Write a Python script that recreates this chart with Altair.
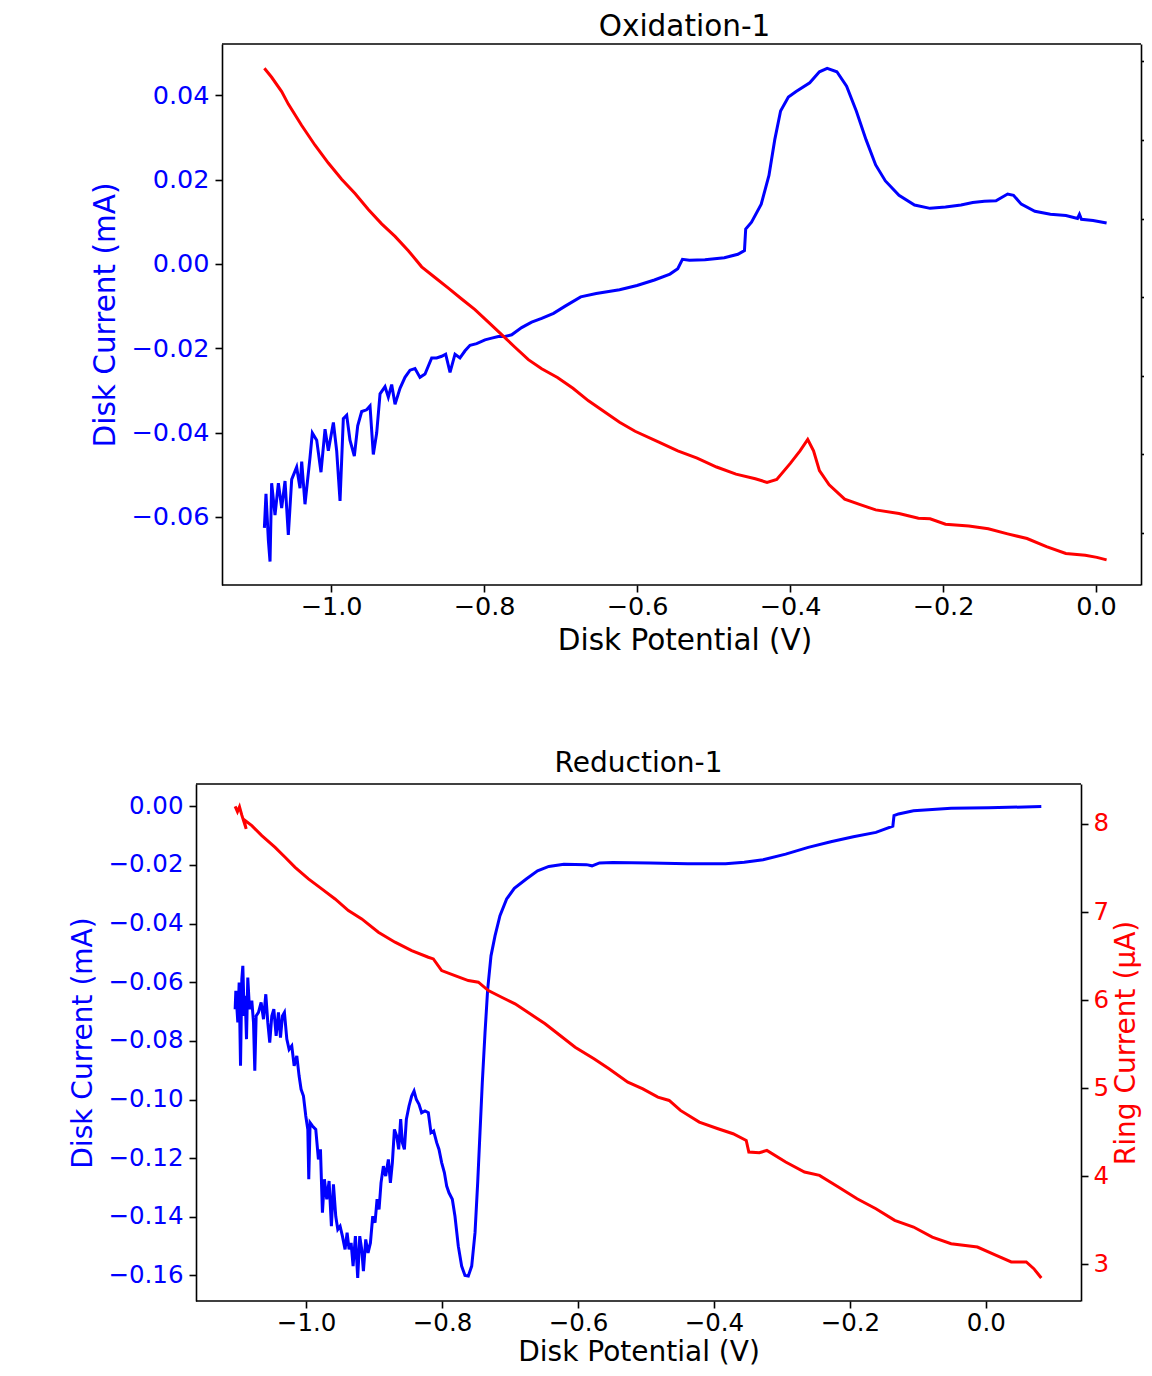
import altair as alt
import pandas as pd

FONT = "DejaVu Sans"
BLUE = "#0000ff"
RED = "#ff0000"

# ---------------- Oxidation-1 ----------------
OX_BLUE_V = [-1.0871, -1.0850, -1.0819, -1.0797, -1.0776, -1.0732, -1.0688, -1.0645, -1.0601, -1.0558,
             -1.0514, -1.0449, -1.0405, -1.0383, -1.0340, -1.0275, -1.0244, -1.0187, -1.0131, -1.0078,
             -1.0035, -0.9969, -0.9926, -0.9882, -0.9839, -0.9795, -0.9752, -0.9695, -0.9651, -0.9599,
             -0.9534, -0.9490, -0.9447, -0.9403, -0.9359, -0.9294, -0.9251, -0.9207, -0.9163, -0.9098,
             -0.9033, -0.8967, -0.8902, -0.8837, -0.8771, -0.8684, -0.8619, -0.8553, -0.8501, -0.8444,
             -0.8379, -0.8314, -0.8248, -0.8183, -0.8096, -0.7987, -0.7900, -0.7813, -0.7725, -0.7638,
             -0.7508, -0.7377, -0.7246, -0.7091, -0.6939, -0.6736, -0.6533, -0.6228, -0.6000, -0.5772,
             -0.5569, -0.5467, -0.5406, -0.5315, -0.5112, -0.4858, -0.4681, -0.4595, -0.4579, -0.4503,
             -0.4376, -0.4275, -0.4199, -0.4123, -0.4021, -0.3920, -0.3742, -0.3615, -0.3514, -0.3387,
             -0.3260, -0.3133, -0.3006, -0.2880, -0.2753, -0.2575, -0.2372, -0.2169, -0.1967, -0.1764,
             -0.1611, -0.1459, -0.1307, -0.1155, -0.1078, -0.0977, -0.0799, -0.0596, -0.0393, -0.0241,
             -0.0216, -0.0190, -0.0038, 0.0139]
OX_BLUE_I = [-0.0626, -0.0545, -0.0655, -0.0706, -0.0520, -0.0596, -0.0520, -0.0579, -0.0515, -0.0643,
             -0.0511, -0.0482, -0.0532, -0.0469, -0.0570, -0.0460, -0.0401, -0.0418, -0.0494, -0.0392,
             -0.0443, -0.0376, -0.0443, -0.0562, -0.0367, -0.0359, -0.0418, -0.0456, -0.0384, -0.0350,
             -0.0346, -0.0337, -0.0452, -0.0401, -0.0308, -0.0291, -0.0316, -0.0286, -0.0333, -0.0295,
             -0.0269, -0.0252, -0.0248, -0.0269, -0.0261, -0.0223, -0.0223, -0.0219, -0.0214, -0.0257,
             -0.0214, -0.0223, -0.0206, -0.0193, -0.0189, -0.0180, -0.0176, -0.0172, -0.0172, -0.0168,
             -0.0151, -0.0138, -0.0129, -0.0117, -0.0100, -0.0078, -0.0070, -0.0061, -0.0051, -0.0038,
             -0.0024, -0.0011, 0.0011, 0.0009, 0.0010, 0.0015, 0.0023, 0.0032, 0.0083, 0.0099,
             0.0142, 0.0210, 0.0295, 0.0363, 0.0396, 0.0409, 0.0430, 0.0456, 0.0464, 0.0456,
             0.0422, 0.0363, 0.0295, 0.0235, 0.0197, 0.0163, 0.0140, 0.0132, 0.0135, 0.0140,
             0.0146, 0.0149, 0.0150, 0.0166, 0.0163, 0.0142, 0.0125, 0.0118, 0.0115, 0.0108,
             0.0118, 0.0106, 0.0103, 0.0097]

OX_RED_V = [-1.0871, -1.0776, -1.0645, -1.0558, -1.0383, -1.0209, -1.0035, -0.9861, -0.9686, -0.9512,
            -0.9338, -0.9163, -0.8989, -0.8815, -0.8641, -0.8466, -0.8292, -0.8118, -0.7943, -0.7769,
            -0.7595, -0.7420, -0.7246, -0.7040, -0.6837, -0.6634, -0.6431, -0.6228, -0.6025, -0.5721,
            -0.5467, -0.5214, -0.4960, -0.4706, -0.4453, -0.4300, -0.4173, -0.3996, -0.3869, -0.3768,
            -0.3692, -0.3615, -0.3488, -0.3285, -0.3082, -0.2880, -0.2575, -0.2321, -0.2169, -0.1967,
            -0.1662, -0.1408, -0.1155, -0.0901, -0.0647, -0.0394, -0.0140, 0.0012, 0.0139]
OX_RED_I = [7.910, 7.796, 7.614, 7.455, 7.182, 6.932, 6.705, 6.500, 6.318, 6.114,
            5.932, 5.773, 5.591, 5.386, 5.250, 5.114, 4.977, 4.841, 4.682, 4.523,
            4.363, 4.205, 4.090, 3.978, 3.841, 3.682, 3.545, 3.409, 3.295, 3.159,
            3.045, 2.954, 2.840, 2.750, 2.691, 2.645, 2.681, 2.886, 3.045, 3.190,
            3.045, 2.795, 2.613, 2.431, 2.363, 2.295, 2.249, 2.190, 2.181, 2.113,
            2.090, 2.054, 1.990, 1.931, 1.827, 1.741, 1.718, 1.691, 1.659]

# ---------------- Reduction-1 ----------------
RE_BLUE_V = [-1.1044, -1.1034, -1.1005, -1.0985, -1.0965, -1.0946, -1.0931, -1.0911, -1.0897, -1.0877,
             -1.0858, -1.0833, -1.0799, -1.0774, -1.0755, -1.0735, -1.0701, -1.0662, -1.0627, -1.0593,
             -1.0564, -1.0535, -1.0505, -1.0475, -1.0441, -1.0407, -1.0377, -1.0348, -1.0319, -1.0284,
             -1.0250, -1.0211, -1.0176, -1.0137, -1.0103, -1.0074, -1.0039, -1.0005, -0.9975, -0.9961,
             -0.9941, -0.9907, -0.9858, -0.9819, -0.9789, -0.9760, -0.9731, -0.9696, -0.9662, -0.9628,
             -0.9598, -0.9564, -0.9534, -0.9500, -0.9466, -0.9427, -0.9397, -0.9368, -0.9338, -0.9309,
             -0.9275, -0.9241, -0.9211, -0.9182, -0.9157, -0.9123, -0.9089, -0.9054, -0.9020, -0.8986,
             -0.8956, -0.8927, -0.8898, -0.8863, -0.8829, -0.8790, -0.8760, -0.8731, -0.8701, -0.8667,
             -0.8638, -0.8609, -0.8584, -0.8554, -0.8525, -0.8486, -0.8447, -0.8412, -0.8378, -0.8339,
             -0.8300, -0.8251, -0.8202, -0.8163, -0.8124, -0.8079, -0.8045, -0.8006, -0.7966, -0.7932,
             -0.7898, -0.7849, -0.7810, -0.7761, -0.7712, -0.7663, -0.7614, -0.7564, -0.7515, -0.7476,
             -0.7442, -0.7408, -0.7368, -0.7329, -0.7280, -0.7221, -0.7148, -0.7050, -0.6937, -0.6761,
             -0.6595, -0.6429, -0.6208, -0.5876, -0.5794, -0.5683, -0.5489, -0.4936, -0.4383, -0.3830,
             -0.3554, -0.3277, -0.2945, -0.2613, -0.2281, -0.1949, -0.1617, -0.1368, -0.1351, -0.1285,
             -0.1064, -0.0511, 0.0042, 0.0816]
RE_BLUE_I = [-0.0692, -0.0629, -0.0737, -0.0601, -0.0885, -0.0590, -0.0544, -0.0715, -0.0646, -0.0794,
             -0.0584, -0.0692, -0.0663, -0.0737, -0.0902, -0.0715, -0.0703, -0.0669, -0.0726, -0.0641,
             -0.0737, -0.0806, -0.0715, -0.0692, -0.0783, -0.0703, -0.0789, -0.0715, -0.0703, -0.0794,
             -0.0829, -0.0817, -0.0885, -0.0851, -0.0920, -0.0965, -0.0988, -0.1056, -0.1102, -0.1272,
             -0.1079, -0.1090, -0.1102, -0.1204, -0.1170, -0.1386, -0.1272, -0.1340, -0.1278, -0.1432,
             -0.1289, -0.1398, -0.1443, -0.1432, -0.1466, -0.1511, -0.1454, -0.1511, -0.1489, -0.1568,
             -0.1466, -0.1608, -0.1466, -0.1511, -0.1585, -0.1477, -0.1523, -0.1489, -0.1398, -0.1420,
             -0.1340, -0.1375, -0.1284, -0.1227, -0.1261, -0.1204, -0.1284, -0.1215, -0.1102, -0.1125,
             -0.1170, -0.1067, -0.1147, -0.1170, -0.1067, -0.1022, -0.0988, -0.0971, -0.1000, -0.1016,
             -0.1045, -0.1039, -0.1045, -0.1113, -0.1107, -0.1147, -0.1170, -0.1215, -0.1249, -0.1295,
             -0.1318, -0.1340, -0.1398, -0.1500, -0.1568, -0.1600, -0.1602, -0.1568, -0.1454, -0.1284,
             -0.1113, -0.0942, -0.0772, -0.0624, -0.0510, -0.0442, -0.0373, -0.0316, -0.0280, -0.0248,
             -0.0220, -0.0205, -0.0198, -0.0199, -0.0203, -0.0193, -0.0192, -0.0193, -0.0196, -0.0196,
             -0.0191, -0.0182, -0.0163, -0.0140, -0.0121, -0.0104, -0.0089, -0.0068, -0.0032, -0.0026,
             -0.0015, -0.0007, -0.0005, -0.0001]

RE_RED_V = [-1.1044, -1.1010, -1.0980, -1.0946, -1.0882, -1.0916, -1.0799, -1.0652, -1.0456, -1.0309,
            -1.0162, -0.9966, -0.9770, -0.9574, -0.9378, -0.9182, -0.8937, -0.8692, -0.8447, -0.8202,
            -0.8128, -0.8006, -0.7810, -0.7614, -0.7466, -0.7319, -0.7123, -0.6926, -0.6705, -0.6484,
            -0.6263, -0.6042, -0.5765, -0.5544, -0.5267, -0.5046, -0.4825, -0.4659, -0.4493, -0.4216,
            -0.3940, -0.3719, -0.3525, -0.3487, -0.3332, -0.3221, -0.2945, -0.2668, -0.2447, -0.2170,
            -0.1894, -0.1617, -0.1341, -0.1064, -0.0788, -0.0511, -0.0124, 0.0153, 0.0374, 0.0595,
            0.0706, 0.0816]
RE_RED_I = [8.201, 8.140, 8.195, 8.100, 7.944, 8.050, 7.981, 7.868, 7.735, 7.622,
            7.508, 7.376, 7.263, 7.149, 7.017, 6.922, 6.771, 6.658, 6.563, 6.487,
            6.468, 6.336, 6.279, 6.222, 6.204, 6.109, 6.033, 5.958, 5.845, 5.731,
            5.599, 5.466, 5.334, 5.220, 5.069, 4.993, 4.899, 4.861, 4.748, 4.615,
            4.540, 4.483, 4.407, 4.275, 4.267, 4.294, 4.162, 4.048, 4.010, 3.878,
            3.745, 3.632, 3.500, 3.424, 3.310, 3.235, 3.197, 3.102, 3.027, 3.027,
            2.951, 2.845]

X_TICKS = [-1.0, -0.8, -0.6, -0.4, -0.2, 0.0]
OX_Y_TICKS = [-0.06, -0.04, -0.02, 0.00, 0.02, 0.04]
OX_R_TICKS = [2, 3, 4, 5, 6, 7, 8]
RE_Y_TICKS = [-0.16, -0.14, -0.12, -0.10, -0.08, -0.06, -0.04, -0.02, 0.00]
RE_R_TICKS = [3, 4, 5, 6, 7, 8]


def mkdf(v, i):
    assert len(v) == len(i), (len(v), len(i))
    return pd.DataFrame({"potential": v, "current": i, "n": list(range(len(v)))})


def panel(title, bv, bi, rv, ri, xdom, ydom, rdom, yticks, rticks, show_right,
          w, h, inset, xrange_end, fs_title, fs_label, title_offset, left_extent,
          xlab_pad, xtitle_pad, rtick):
    # inset: blank strip (px) left of the drawn frame inside the group
    xdef = alt.X("potential:Q",
                 scale=alt.Scale(domain=xdom, nice=False, zero=False, range=[inset, xrange_end]),
                 axis=alt.Axis(values=X_TICKS, format=".1f", title="Disk Potential (V)",
                               labelFontSize=fs_label, titleFontSize=fs_title,
                               labelPadding=xlab_pad, titlePadding=xtitle_pad, tickSize=7,
                               domain=False, labelFlush=False, labelOverlap=False,
                               labelColor="black", titleColor="black"))
    left_axis_kw = dict(orient="left", values=yticks, format=".2f",
                        title="Disk Current (mA)", labelColor=BLUE, titleColor=BLUE,
                        labelFontSize=fs_label, titleFontSize=fs_title,
                        labelPadding=6, titlePadding=10, tickSize=7,
                        labelFlush=False, labelOverlap=False)
    if inset:
        left_axis_kw["offset"] = -inset
    blue = alt.Chart(mkdf(bv, bi)).mark_line(color=BLUE, strokeWidth=3).encode(
        x=xdef,
        y=alt.Y("current:Q", scale=alt.Scale(domain=ydom, nice=False, zero=False),
                axis=alt.Axis(**left_axis_kw)),
        order="n:Q")
    if show_right:
        raxis = alt.Axis(orient="right", values=rticks, format="d",
                         title="Ring Current (µA)", labelColor=RED, titleColor=RED,
                         labelFontSize=fs_label, titleFontSize=fs_title, titleAngle=270,
                         titleBaseline="top", labelPadding=5, titlePadding=4, tickSize=rtick,
                         labelFlush=False, labelOverlap=False)
    else:
        raxis = alt.Axis(orient="right", values=rticks, labels=False, title=None, tickSize=rtick)
    red = alt.Chart(mkdf(rv, ri)).mark_line(color=RED, strokeWidth=3).encode(
        x=xdef,
        y=alt.Y("current:Q", scale=alt.Scale(domain=rdom, nice=False, zero=False), axis=raxis),
        order="n:Q")
    one = pd.DataFrame({"s": [0]})
    top_edge = alt.Chart(one).mark_rule(color="black", strokeWidth=1.6).encode(
        x=alt.value(inset), x2=alt.value(w), y=alt.value(0))
    bottom_edge = alt.Chart(one).mark_rule(color="black", strokeWidth=1.6).encode(
        x=alt.value(inset), x2=alt.value(w), y=alt.value(h))
    # invisible element fixing the panel's left extent
    spacer = alt.Chart(one).mark_rule(opacity=0, strokeOpacity=0).encode(
        x=alt.value(-left_extent), x2=alt.value(-left_extent + 2), y=alt.value(0))
    return alt.layer(blue, red, top_edge, bottom_edge, spacer).resolve_scale(
        y="independent").properties(
        width=w, height=h,
        title=alt.TitleParams(title, fontSize=fs_title, font=FONT, fontWeight="normal",
                              anchor="middle", frame="group", offset=title_offset,
                              dx=(inset + xrange_end - w) / 2, color="black"))


top = panel("Oxidation-1", OX_BLUE_V, OX_BLUE_I, OX_RED_V, OX_RED_I,
            [-1.1425, 0.0667], [-0.07616, 0.05219], [1.340, 8.219],
            OX_Y_TICKS, OX_R_TICKS, False, 945, 541, 26, 951, 29.5, 25.5, 1, 150, 2, 7, 6)
bottom = panel("Reduction-1", RE_BLUE_V, RE_BLUE_I, RE_RED_V, RE_RED_I,
               [-1.162, 0.140], [-0.1687, 0.0076], [2.584, 8.454],
               RE_Y_TICKS, RE_R_TICKS, True, 885, 517, 0, 885, 28, 24.5, 5, 183, 3, 4, 7)

chart = alt.concat(top, bottom, columns=1, spacing=95).properties(
    padding={"left": 5, "top": 3, "right": -4, "bottom": 0}
).configure_view(strokeOpacity=0).configure_axis(
    domainColor="black", tickColor="black", domainWidth=1.6, tickWidth=1.6, grid=False,
    labelFont=FONT, titleFont=FONT, titleFontWeight="normal"
).configure_title(font=FONT)

chart.save("out.html", embed_options={"renderer": "svg", "actions": False})
